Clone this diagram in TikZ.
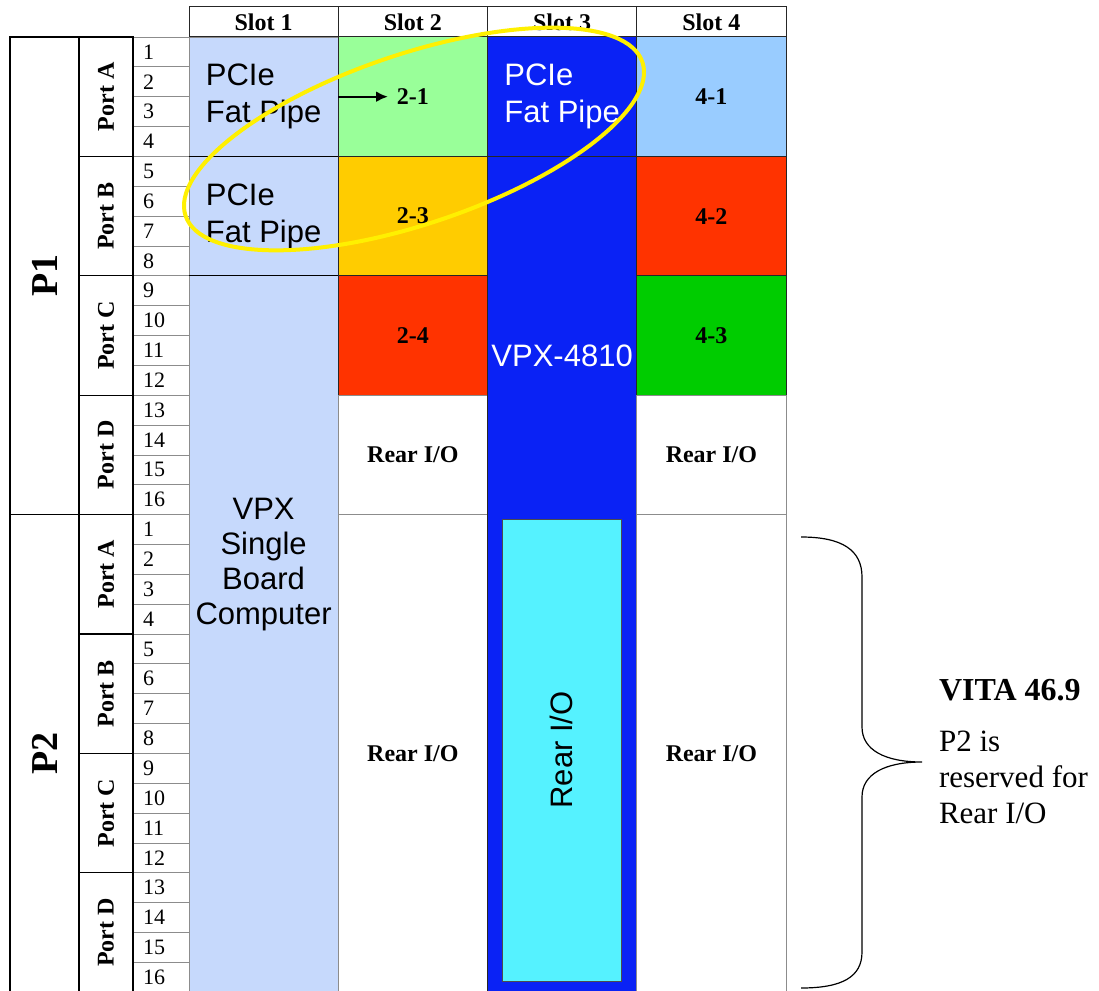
\documentclass[tikz,border=0pt]{standalone}
\usepackage{fontspec}
\setmainfont{Liberation Serif}
\setsansfont{Liberation Sans}
\usetikzlibrary{arrows.meta}
\definecolor{sbcblue}{HTML}{C6D9FC}
\definecolor{linkgreen}{HTML}{99FF99}
\definecolor{linkorange}{HTML}{FFCC00}
\definecolor{linkred}{HTML}{FF3300}
\definecolor{linkgreenB}{HTML}{00CC00}
\definecolor{linkblue}{HTML}{99CCFF}
\definecolor{boardblue}{HTML}{0A22F5}
\definecolor{rearcyan}{HTML}{55F2FF}
\definecolor{gridgray}{HTML}{8C8C8C}
\definecolor{ringyellow}{HTML}{FFF000}
\begin{document}
\begin{tikzpicture}[x=1pt,y=-1pt,
	every node/.style={inner sep=0pt,outer sep=0pt},
	pinbox/.style={draw=gridgray,line width=0.8pt,minimum width=56pt,minimum height=29.85pt,
		text width=36pt,inner xsep=10pt,align=left,font=\fontsize{22}{24}\selectfont},
	portbox/.style={draw=black,line width=1.1pt,rotate=90,minimum width=119.4pt,
		minimum height=54pt,font=\bfseries\fontsize{24}{26}\selectfont},
	connbox/.style={draw=black,line width=1.1pt,rotate=90,minimum width=477.6pt,
		minimum height=69pt,font=\bfseries\fontsize{38}{40}\selectfont},
	slotcell/.style={draw=gridgray,line width=0.8pt,minimum width=149.25pt,
		font=\bfseries\fontsize{24}{26}\selectfont},
	linkcell/.style={slotcell,draw=black!85,line width=1pt},
	quad/.style={minimum height=119.4pt},
	fatpipe/.style={align=left,font=\sffamily\fontsize{31}{37}\selectfont},
	bigsans/.style={font=\sffamily\fontsize{31}{35}\selectfont}]
	\useasboundingbox (0,0) rectangle (1099,990);
	\def\rh{29.85}
	% pin numbers, P1 and P2
	\foreach \i in {1,...,16} {
		\node[pinbox] (pa\i) at (161,{37+(\i-0.5)*\rh}) {\i};
		\node[pinbox] (pb\i) at (161,{514.6+(\i-0.5)*\rh}) {\i};
	}
	\foreach \p [count=\k] in {A,B,C,D} {
		\node[portbox] (pa\p) at (106,{37+(4*\k-2)*\rh}) {Port \p};
		\node[portbox] (pb\p) at (106,{514.6+(4*\k-2)*\rh}) {Port \p};
	}
	\node[connbox] (P1) at (44.5,275.8) {P1};
	\node[connbox] (P2) at (44.5,753.4) {P2};
	% slot 1
	\node[slotcell,quad,fill=sbcblue,fatpipe] (s1a) at (263.6,96.7) {PCIe\\Fat Pipe};
	\node[slotcell,quad,fill=sbcblue,fatpipe] (s1b) at (263.6,216.1) {PCIe\\Fat Pipe};
	\node[slotcell,minimum height=716.4pt,fill=sbcblue] (s1c) at (263.6,634) {};
	\draw[black,line width=1pt] (s1a.south west) -- (s1a.south east);
	\draw[black,line width=1pt] (s1b.south west) -- (s1b.south east);
	\node[bigsans,align=center] (sbc) at (263.6,565) {VPX\\Single\\Board\\Computer};
	% slot 2
	\node[linkcell,quad,fill=linkgreen] (s2a) at (412.9,96.7) {2-1};
	\node[linkcell,quad,fill=linkorange] (s2b) at (412.9,216.1) {2-3};
	\node[linkcell,quad,fill=linkred] (s2c) at (412.9,335.5) {2-4};
	\node[slotcell,quad] (s2d) at (412.9,454.9) {Rear I/O};
	\node[slotcell,minimum height=477.6pt] (s2e) at (412.9,753.4) {Rear I/O};
	% slot 3
	\node[linkcell,quad,fill=boardblue,fatpipe,text=white] (s3a) at (562.1,96.7) {PCIe\\Fat Pipe};
	\node[linkcell,minimum height=835.8pt,fill=boardblue] (s3b) at (562.1,574.3) {};
	\node[bigsans,text=white] (vpx) at (562.1,356) {VPX-4810};
	\node[draw=black!70,line width=0.8pt,fill=rearcyan,rotate=90,minimum width=462pt,
		minimum height=119pt,bigsans] (s3r) at (561.5,750) {Rear I/O};
	% slot 4
	\node[linkcell,quad,fill=linkblue] (s4a) at (711.4,96.7) {4-1};
	\node[linkcell,quad,fill=linkred] (s4b) at (711.4,216.1) {4-2};
	\node[linkcell,quad,fill=linkgreenB] (s4c) at (711.4,335.5) {4-3};
	\node[slotcell,quad] (s4d) at (711.4,454.9) {Rear I/O};
	\node[slotcell,minimum height=477.6pt] (s4e) at (711.4,753.4) {Rear I/O};
	% header
	\foreach \s in {1,...,4}
		\node[linkcell,minimum height=30pt,fill=white] (slot\s) at ({189+149.25*(\s-0.5)},22) {Slot \s};
	\coordinate (tip21) at (388,96.7);
	\draw[line width=2.4pt,-{Latex[length=12pt,width=11pt]}] (s1a) -- (tip21);
	\draw[ringyellow,line width=4pt,rotate around={18.6:(414,139)}] (414,139) ellipse [x radius=241,y radius=85];
	% brace and note
	\draw[line width=1.2pt] (801,537) .. controls (842,537) and (862,550) .. (862,577) -- (862,727)
		.. controls (862,750) and (885,762) .. (922,762)
		.. controls (885,762) and (862,774) .. (862,797) -- (862,952)
		.. controls (862,977) and (842,988) .. (801,988);
	\node[anchor=base west,font=\bfseries\fontsize{32}{36}\selectfont] (vita) at (939,700) {VITA 46.9};
	\node[anchor=north west,align=left,font=\fontsize{31}{36}\selectfont] (note) at (939,731) {P2 is\\reserved for\\Rear I/O};
\end{tikzpicture}
\end{document}
